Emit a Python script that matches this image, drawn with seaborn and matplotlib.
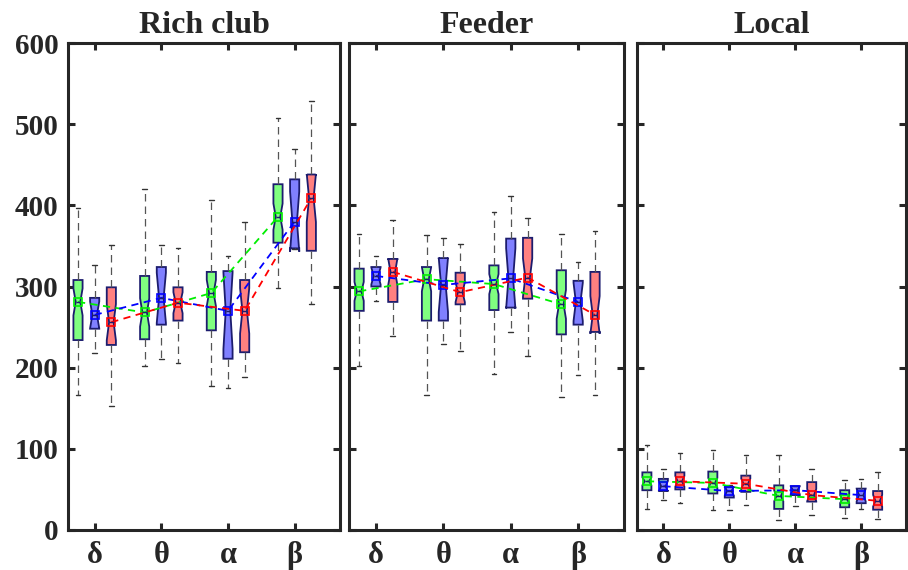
import numpy as np
import pandas as pd
import matplotlib
matplotlib.use("Agg")
import matplotlib.pyplot as plt
import seaborn as sns

bands = ["δ", "θ", "α", "β"]
groups = ["G1", "G2", "G3"]
panels = ["Rich club", "Feeder", "Local"]

# per panel, ordered band-major: (δ: G1,G2,G3), (θ: ...), ...
rc_lo  = [166, 218, 153, 202, 211, 206, 178, 175, 189, 298, 346, 278]
rc_q1  = [234, 248, 228, 235, 253, 258, 246, 211, 219, 354, 347, 344]
rc_med = [281, 265, 256, 268, 286, 280, 292, 270, 270, 386, 380, 409]
rc_q3  = [308, 286, 299, 313, 324, 299, 318, 319, 308, 426, 432, 438]
rc_hi  = [397, 326, 351, 420, 351, 347, 406, 338, 380, 508, 470, 528]

fd_lo  = [202, 282, 239, 166, 229, 220, 192, 244, 214, 164, 191, 166]
fd_q1  = [270, 300, 281, 258, 258, 278, 271, 274, 285, 241, 253, 244]
fd_med = [294, 313, 318, 309, 302, 293, 303, 310, 311, 278, 281, 265]
fd_q3  = [322, 324, 334, 324, 335, 317, 326, 359, 360, 320, 307, 318]
fd_hi  = [365, 338, 382, 363, 360, 352, 392, 411, 384, 365, 330, 368]

lc_lo  = [26, 37, 33, 25, 25, 31, 12, 30, 19, 15, 26, 14]
lc_q1  = [49, 48, 50, 45, 40, 47, 26, 43, 35, 28, 33, 25]
lc_med = [60, 54, 60, 58, 48, 57, 42, 49, 43, 38, 43, 36]
lc_q3  = [71, 63, 71, 72, 53, 67, 55, 54, 59, 49, 51, 48]
lc_hi  = [105, 75, 95, 98, 55, 92, 92, 54, 75, 62, 63, 72]

# samples per quartile segment for each group (controls notch size)
group_k = {"G1": 12, "G2": 3, "G3": 6}

stats = {
    "Rich club": (rc_lo, rc_q1, rc_med, rc_q3, rc_hi),
    "Feeder": (fd_lo, fd_q1, fd_med, fd_q3, fd_hi),
    "Local": (lc_lo, lc_q1, lc_med, lc_q3, lc_hi),
}

box_colors = {"G1": "#80ff80", "G2": "#8080ff", "G3": "#ff8080"}
line_colors = {"G1": "#00ee00", "G2": "#0000ff", "G3": "#ff0000"}
edge = "#1c1c6e"

# Expand summary values into samples reproducing the read quartiles
rows = []
for p in panels:
    lo, q1, md, q3, hi = stats[p]
    i = 0
    for b in bands:
        for g in groups:
            K = group_k[g]
            vals = [lo[i]] + [q1[i]] * K + [md[i]] * K + [q3[i]] * K + [hi[i]] * K
            for v in vals:
                rows.append((p, b, g, v))
            i += 1
df = pd.DataFrame(rows, columns=["panel", "band", "group", "value"])

sns.set_theme(style="ticks")
plt.rcParams["font.family"] = ["Liberation Serif", "DejaVu Serif"]
plt.rcParams["font.weight"] = "bold"

fig = plt.figure(figsize=(9.08, 5.70), dpi=100)
lefts = [68, 349, 637]
rights = [340, 624, 906]
bottom = 1 - 530 / 570
height = (530 - 43) / 570

spine_col = "#262626"
for k, p in enumerate(panels):
    ax = fig.add_axes([lefts[k] / 908, bottom, (rights[k] - lefts[k]) / 908, height])
    sub = df[df.panel == p]
    sns.boxplot(
        data=sub, x="band", y="value", hue="group", order=bands, hue_order=groups,
        palette=box_colors, saturation=1, width=0.75, gap=0.45, whis=(0, 100),
        showfliers=False, shownotches=True, linecolor=edge, linewidth=1.3,
        whiskerprops=dict(color="#555555", linestyle=(0, (6, 4)), linewidth=0.9),
        capprops=dict(color="#333333", linewidth=1.0),
        medianprops=dict(color=edge, linewidth=1.0),
        legend=False, ax=ax,
    )
    sns.pointplot(
        data=sub, x="band", y="value", hue="group", order=bands, hue_order=groups,
        estimator="median", errorbar=None, dodge=0.5, markers="s",
        linestyles=(0, (4, 3)), palette=line_colors, markersize=5.5,
        linewidth=1.3, markeredgewidth=1.2, markerfacecolor="none",
        legend=False, ax=ax,
    )
    ax.set_xlim(-0.4, 3.68)
    ax.set_ylim(0, 600)
    ax.set_yticks(range(0, 601, 100))
    ax.set_xlabel("")
    ax.set_ylabel("")
    ax.set_title(p, fontsize=23, fontweight="bold", pad=7)
    for s in ax.spines.values():
        s.set_visible(True)
        s.set_linewidth(2.2)
        s.set_color(spine_col)
    ax.tick_params(axis="both", direction="in", length=5, width=2.2, color=spine_col,
                   top=True, right=True, labelsize=21)
    ax.tick_params(axis="x", pad=8, labelsize=22)
    ax.tick_params(axis="y", pad=7)
    for t in ax.get_xticklabels() + ax.get_yticklabels():
        t.set_fontweight("bold")
        t.set_color("#262626")
    if k > 0:
        ax.set_yticklabels([])

fig.savefig("out.png", dpi=100)
